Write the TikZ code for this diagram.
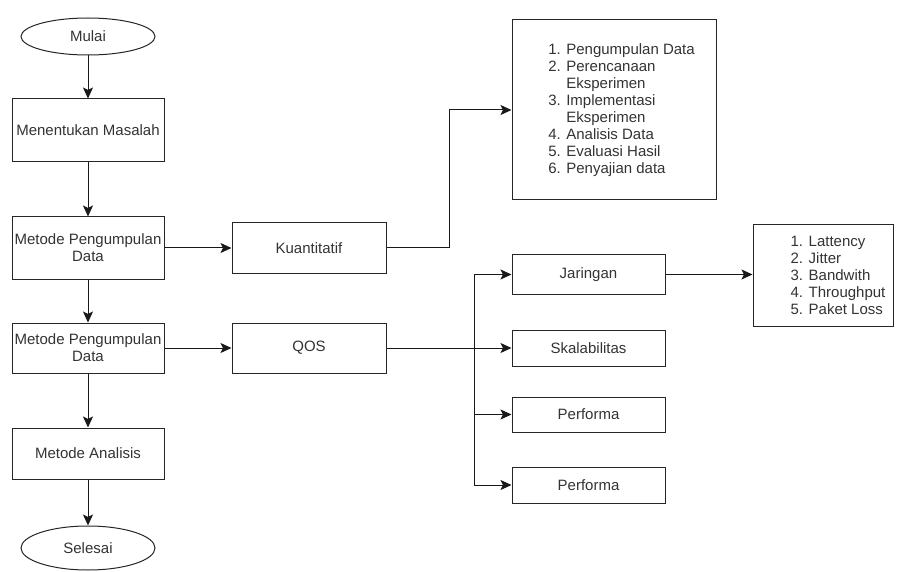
\documentclass[tikz,border=0pt]{standalone}
\usepackage{fontspec}
\setmainfont{Liberation Sans}
\usetikzlibrary{shapes.geometric, arrows.meta}

\begin{document}
\begin{tikzpicture}[
    x=1pt, y=-1pt,
    font=\fontsize{15}{17}\selectfont,
    block/.style={rectangle, draw=black!85, line width=1pt, text=black!80, minimum width=152pt, align=center, inner sep=2pt},
    terminal/.style={ellipse, draw=black!85, line width=1pt, text=black!80, minimum width=134pt, minimum height=37pt},
    listbox/.style={rectangle, draw=black!85, line width=1pt},
    listtext/.style={align=left, text=black!80},
    arrow/.style={-{Stealth[length=11pt,width=10pt,inset=2.5pt]}, line width=1pt, draw=black!90}
]
\useasboundingbox (0,0) rectangle (897,572);

% Main flow
\node [terminal] (mulai) at (88,36.5) {Mulai};
\node [block, minimum height=63pt] (masalah) at (88,130.5) {Menentukan Masalah};
\node [block, minimum height=62pt] (kumpul1) at (88,248) {Metode Pengumpulan\\Data};
\node [block, minimum height=50pt] (kumpul2) at (88,348) {Metode Pengumpulan\\Data};
\node [block, minimum height=51pt] (analisis) at (88,453.5) {Metode Analisis};
\node [terminal, minimum height=44pt] (selesai) at (88,548) {Selesai};

% Second column
\node [block, minimum width=154pt, minimum height=50pt] (kuanti) at (309,248) {Kuantitatif};
\node [block, minimum width=154pt, minimum height=50pt] (qos) at (309,348) {QOS};

% QOS parameters
\node [block, minimum width=153pt, minimum height=39pt] (jaringan) at (588.5,274.5) {Jaringan};
\node [block, minimum width=153pt, minimum height=36pt] (skala) at (588.5,348) {Skalabilitas};
\node [block, minimum width=153pt, minimum height=35pt] (performa1) at (588.5,414.5) {Performa};
\node [block, minimum width=153pt, minimum height=36pt] (performa2) at (588.5,485) {Performa};

% List boxes
\node [listbox, minimum width=204pt, minimum height=180pt,
    label={[listtext, xshift=7.5pt]center:{1. Pengumpulan Data\\2. Perencanaan\\\hphantom{2. }Eksperimen\\3. Implementasi\\\hphantom{3. }Eksperimen\\4. Analisis Data\\5. Evaluasi Hasil\\6. Penyajian data}}]
    (daftar1) at (614,110) {};
\node [listbox, minimum width=140pt, minimum height=101pt,
    label={[listtext, xshift=15pt]center:{1. Lattency\\2. Jitter\\3. Bandwith\\4. Throughput\\5. Paket Loss}}]
    (daftar2) at (823,275.5) {};

% Main flow arrows
\draw [arrow] (mulai) -- (masalah);
\draw [arrow] (masalah) -- (kumpul1);
\draw [arrow] (kumpul1) -- (kumpul2);
\draw [arrow] (kumpul2) -- (analisis);
\draw [arrow] (analisis) -- (selesai);

% Branches
\draw [arrow] (kumpul1) -- (kuanti);
\draw [arrow] (kumpul2) -- (qos);
\draw [arrow] (kuanti.east) -- ++(63,0) |- (daftar1.west);
\draw [arrow] (qos) -- (skala);
\coordinate (trunk) at (474,348);
\draw [arrow] (trunk) |- (jaringan);
\draw [arrow] (trunk) |- (performa1);
\draw [arrow] (trunk) |- (performa2);
\draw [arrow] (jaringan.east) -- (jaringan.east -| daftar2.west);

\end{tikzpicture}
\end{document}
